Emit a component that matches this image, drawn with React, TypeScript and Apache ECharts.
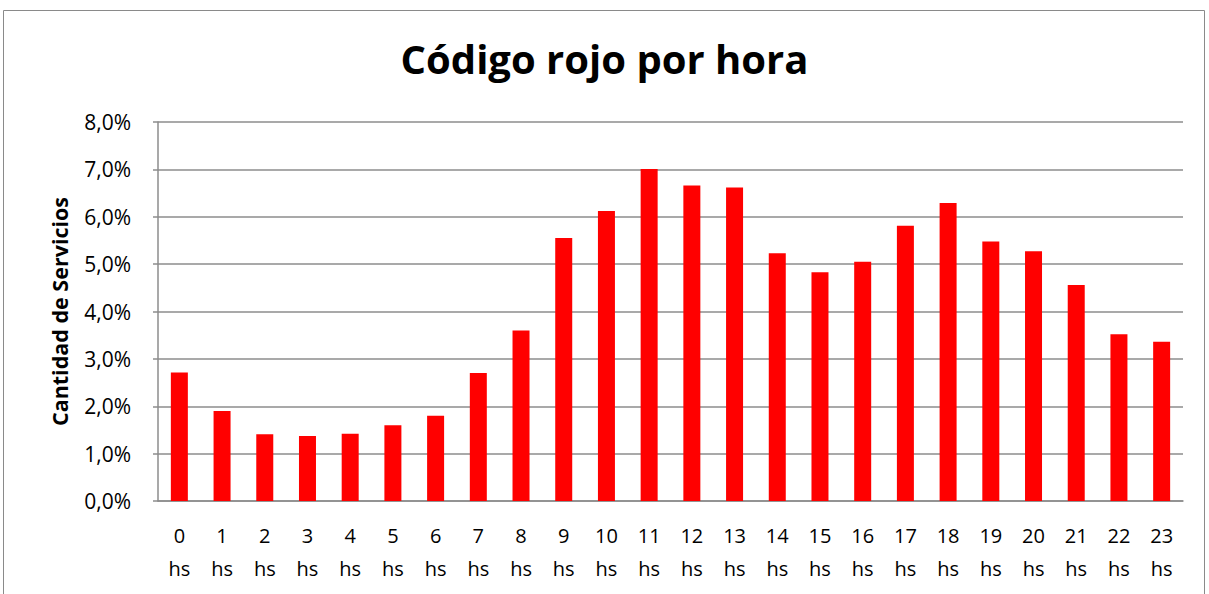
import React, { useEffect, useRef } from "react";
import * as echarts from "echarts";

const categories = ["0", "1", "2", "3", "4", "5", "6", "7", "8", "9", "10", "11", "12", "13", "14", "15", "16", "17", "18", "19", "20", "21", "22", "23"];
const values = [2.71, 1.9, 1.41, 1.37, 1.42, 1.6, 1.8, 2.7, 3.6, 5.55, 6.12, 7.01, 6.66, 6.62, 5.23, 4.83, 5.05, 5.81, 6.29, 5.48, 5.27, 4.56, 3.52, 3.36];
const title = "Código rojo por hora";
const yName = "Cantidad de Servicios";

export default function App() {
  const ref = useRef<HTMLDivElement>(null);
  useEffect(() => {
    if (!ref.current) return;
    const chart = echarts.init(ref.current, null, { renderer: "svg" });
    const font = "'Open Sans', 'Noto Sans', sans-serif";
    chart.setOption({
      animation: false,
      backgroundColor: "#ffffff",
      title: {
        text: title,
        left: "center",
        top: 33,
        textStyle: { fontFamily: font, fontWeight: "bold", fontSize: 40, color: "#000" },
      },
      graphic: [
        {
          type: "rect",
          shape: { x: 3.5, y: 10.5, width: 1201, height: 600 },
          style: { fill: "none", stroke: "#8a8a8a", lineWidth: 1 },
          silent: true,
        },
      ],
      grid: { left: 158, right: 26, top: 122, bottom: 93 },
      xAxis: {
        type: "category",
        data: categories,
        axisLine: { show: true, lineStyle: { color: "#8c8c8c", width: 1.5 } },
        axisTick: { show: false },
        axisLabel: {
          formatter: (v: string) => v + "\nhs",
          fontFamily: font,
          fontSize: 20,
          color: "#000",
          lineHeight: 33,
          margin: 18,
        },
      },
      yAxis: {
        type: "value",
        min: 0,
        max: 8,
        interval: 1,
        name: yName,
        nameLocation: "middle",
        nameGap: 88,
        nameTextStyle: { fontFamily: font, fontWeight: "bold", fontSize: 21.5, color: "#000" },
        axisLine: { show: true, lineStyle: { color: "#8c8c8c", width: 1.5 } },
        axisTick: { show: true, length: 5, lineStyle: { color: "#8c8c8c", width: 1.5 } },
        splitLine: { show: true, lineStyle: { color: "#8c8c8c", width: 1.5 } },
        axisLabel: {
          formatter: (v: number) => v.toFixed(1).replace(".", ",") + "%",
          fontFamily: font,
          fontSize: 21,
          color: "#000",
          margin: 27,
        },
      },
      series: [
        {
          type: "bar",
          data: values,
          barWidth: 17,
          itemStyle: { color: "#ff0000" },
        },
      ],
    });
    return () => chart.dispose();
  }, []);
  return <div ref={ref} style={{ position: "fixed", left: 0, top: 0, width: 1209, height: 594 }} />;
}
